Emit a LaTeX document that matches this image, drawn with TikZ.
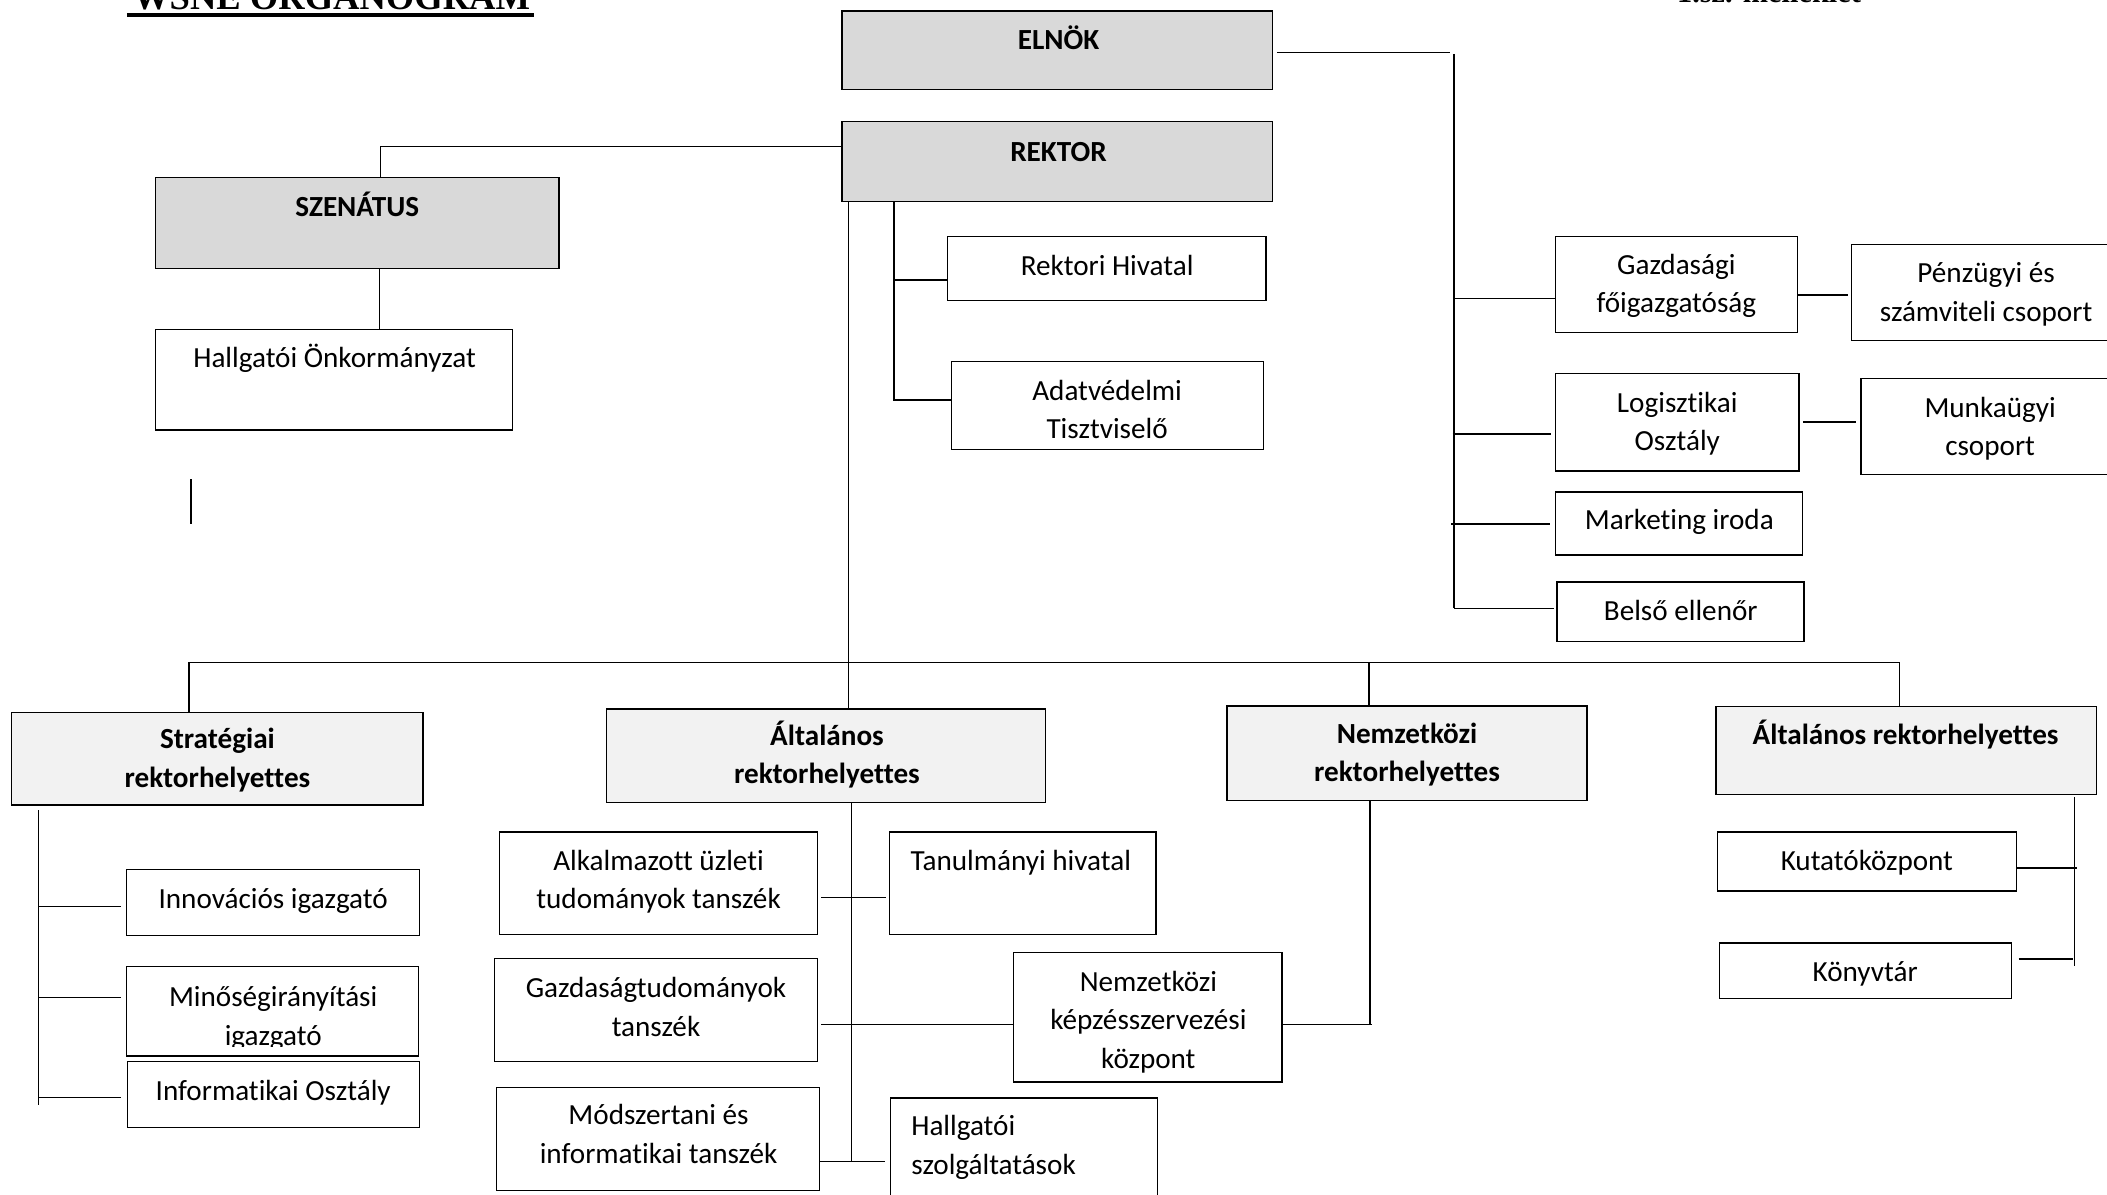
\documentclass[tikz,border=0pt]{standalone}
\usepackage{fontspec}
\setmainfont[Ligatures=NoCommon]{Carlito}
\newfontfamily\titlefont{Liberation Serif}
\usetikzlibrary{fit}
\definecolor{topgray}{HTML}{D9D9D9}
\definecolor{midgray}{HTML}{F2F2F2}
\newcommand\orgbox[6]{\node[#6, fit={(#2,#3) (#4,#5)}] (#1) {};}
\begin{document}
\begin{tikzpicture}[x=1pt,y=-1pt,
  box/.style={draw=black, line width=1pt, inner sep=0pt, fill=white},
  topbox/.style={box, fill=topgray},
  midbox/.style={box, fill=midgray},
  txt/.style={font=\fontsize{21.7}{28.5}\selectfont, align=center, inner sep=0pt, anchor=base},
  btxt/.style={txt, font=\fontsize{21.7}{28.5}\selectfont\bfseries},
  conn/.style={line width=1pt, black}]
\useasboundingbox (0,0) rectangle (1568,889);

% title texts (cut at top, as in the reference)
\node[font=\fontsize{27.2}{30}\selectfont\titlefont\bfseries, inner sep=0pt, anchor=base] (title) at (246.8,6.9) {WSNE ORGANOGRAM};
\draw[line width=2.5pt] (94.5,11.2) -- (397.4,11.2);
\node[font=\fontsize{22.6}{26}\selectfont\titlefont\bfseries, inner sep=0pt, anchor=base] (mell) at (1316.5,2) {1.sz. melléklet};

% boxes
\orgbox{elnok}{626.6}{8.2}{947}{66.5}{topbox}
\orgbox{rektor}{626.6}{90.5}{947}{149.8}{topbox}
\orgbox{szen}{115.6}{131.9}{415.9}{199.9}{topbox}
\orgbox{hok}{115.6}{245}{381.4}{320}{box}
\orgbox{rhiv}{705.3}{176.1}{942.1}{223.7}{box}
\orgbox{adat}{707.9}{269.1}{940.2}{334.3}{box}
\orgbox{gazd}{1157.6}{175.8}{1337.8}{247.4}{box}
\orgbox{penz}{1378}{182}{1575}{253.3}{box}
\orgbox{logi}{1157.6}{277.9}{1338.8}{350.4}{box}
\orgbox{munka}{1385}{281.6}{1575}{352.9}{box}
\orgbox{mark}{1157.6}{366.2}{1341.4}{413}{box}
\orgbox{belso}{1158.8}{433.2}{1342.6}{477.5}{box}
\orgbox{strat}{8.6}{530}{314.9}{599.1}{midbox}
\orgbox{altm}{451.3}{527.5}{777.9}{597.2}{midbox}
\orgbox{nemz}{913.2}{525.4}{1181}{595.5}{midbox}
\orgbox{altr}{1276.9}{525.6}{1560.2}{591.1}{midbox}
\orgbox{inno}{94.3}{647.3}{312.3}{696.4}{box}
\orgbox{mino}{94.3}{719.2}{311.3}{785.8}{box}
\orgbox{info}{95}{789.7}{312.3}{839.1}{box}
\orgbox{alk}{371.6}{619.1}{608.6}{695.3}{box}
\orgbox{tan}{661.7}{619.1}{860.2}{695.3}{box}
\orgbox{gtud}{367.8}{713.2}{608.6}{789.7}{box}
\orgbox{nkk}{754}{709}{954}{805.1}{box}
\orgbox{modsz}{369.3}{809.2}{609.7}{885.7}{box}
\orgbox{hszolg}{662.8}{817.2}{861.4}{895}{box}
\orgbox{kut}{1278.2}{619.1}{1500.7}{663}{box}
\orgbox{konyv}{1279.5}{701.7}{1496.9}{743.1}{box}

% texts (anchor=base is the baseline of the last line)
\node[btxt] (elnokT) at (787.7,36.8) {ELNÖK};
\node[btxt] (rektorT) at (787.7,119.9) {REKTOR};
\node[btxt] (szenT) at (265.8,160.8) {SZENÁTUS};
\node[txt] (hokT) at (249,273.8) {Hallgatói Önkormányzat};
\node[txt] (rhivT) at (823.9,204.9) {Rektori Hivatal};
\node[txt] (adatT) at (823.9,326.5) {Adatvédelmi\\Tisztviselő};
\node[txt] (gazdT) at (1247.5,232.8) {Gazdasági\\főigazgatóság};
\node[txt] (penzT) at (1478,239.1) {Pénzügyi és\\számviteli csoport};
\node[txt] (logiT) at (1248.2,335.2) {Logisztikai\\Osztály};
\node[txt] (munkaT) at (1481,338.9) {Munkaügyi\\csoport};
\node[txt] (markT) at (1249.7,394.1) {Marketing iroda};
\node[txt] (belsoT) at (1250.8,461.7) {Belső ellenőr};
\node[btxt] (stratT) at (161.8,585.8) {Stratégiai\\rektorhelyettes};
\node[btxt] (altmT) at (615.4,583.1) {Általános\\rektorhelyettes};
\node[btxt] (nemzT) at (1047.1,581.7) {Nemzetközi\\rektorhelyettes};
\node[btxt] (altrT) at (1418.1,554.3) {Általános rektorhelyettes};
\node[txt] (innoT) at (203.3,676.3) {Innovációs igazgató};
\begin{scope}
\clip (94.3,719.2) rectangle (311.3,779);
\node[txt] (minoT) at (203.3,777.8) {Minőségirányítási\\igazgató};
\end{scope}
\node[txt] (infoT) at (203.3,819) {Informatikai Osztály};
\node[txt] (alkT) at (490.1,676.3) {Alkalmazott üzleti\\tudományok tanszék};
\node[txt] (tanT) at (759.7,647.6) {Tanulmányi hivatal};
\node[txt] (gtudT) at (488.2,771) {Gazdaságtudományok\\tanszék};
\node[txt] (nkkT) at (854.6,794.9) {Nemzetközi\\képzésszervezési\\központ};
\node[txt] (modszT) at (490.1,865.6) {Módszertani és\\informatikai tanszék};
\node[txt, anchor=base west, align=left] (hszolgT) at (678,873.8) {Hallgatói\\szolgáltatások};
\node[txt] (kutT) at (1389.3,647.6) {Kutatóközpont};
\node[txt] (konyvT) at (1388,730.4) {Könyvtár};

% connectors: ELNÖK side
\coordinate (eR) at (1079,38.9);
\coordinate (busR) at (1082,40);
\coordinate (bG) at (1082,222.3);
\coordinate (bL) at (1081,323);
\coordinate (bM) at (1080,390);
\coordinate (bB) at (1082,452.7);
\draw[conn] (elnok.east |- eR) ++(2.8,0) -- (eR);
\draw[conn] (busR) -- (bB);
\draw[conn] (bG) -- (bG -| gazd.west);
\draw[conn, shorten >=2.6pt] (bL) -- (bL -| logi.west);
\draw[conn, shorten >=3.6pt] (bM) -- (bM -| mark.west);
\draw[conn, shorten >=1.8pt] (bB) -- (bB -| belso.west);
\coordinate (gP) at (0,219.5);
\draw[conn, shorten >=2.3pt] (gP -| gazd.east) -- (gP -| penz.west);
\coordinate (lM) at (0,314);
\draw[conn, shorten <=2.6pt, shorten >=3.2pt] (lM -| logi.east) -- (lM -| munka.west);

% REKTOR side
\coordinate (sJ) at (283.4,109.1);
\draw[conn] (sJ -| rektor.west) -- (sJ) -- (sJ |- szen.north);
\coordinate (sH) at (282.4,0);
\draw[conn] (sH |- szen.south) -- (sH |- hok.north);
\coordinate (rV) at (631.2,0);
\draw[conn] (rV |- rektor.south) -- (rV |- altm.north);
\coordinate (rV2) at (665.4,208.3);
\coordinate (rV3) at (665.4,297.6);
\draw[conn] (rV2 |- rektor.south) -- (rV3) -- (rV3 -| adat.west);
\draw[conn] (rV2) -- (rV2 -| rhiv.west);
\coordinate (st1) at (142.2,356.6);
\coordinate (st2) at (142.2,390);
\draw[conn] (st1) -- (st2);

% horizontal bus
\coordinate (busL) at (140.6,493.2);
\coordinate (busRt) at (1413.8,493.2);
\coordinate (nV) at (1018.7,493.2);
\draw[conn] (busL |- strat.north) -- (busL) -- (busRt) -- (busRt |- altr.north);
\draw[conn] (nV) -- (nV |- nemz.north);

% Strategiai children
\coordinate (sV2) at (28.6,822);
\coordinate (sB1) at (28.6,674.8);
\coordinate (sB2) at (28.6,742.5);
\coordinate (sB3) at (28.6,816.6);
\draw[conn, shorten <=3.5pt] (strat.south -| sV2) -- (sV2);
\draw[conn, shorten >=3.9pt] (sB1) -- (sB1 -| inno.west);
\draw[conn, shorten >=3.9pt] (sB2) -- (sB2 -| mino.west);
\draw[conn, shorten >=4.6pt] (sB3) -- (sB3 -| info.west);

% Altalanos (middle) children
\coordinate (aV) at (633.6,864.6);
\draw[conn] (aV |- altm.south) -- (aV);
\coordinate (aB1) at (0,667.7);
\draw[conn, shorten <=2.2pt, shorten >=1.5pt] (aB1 -| alk.east) -- (aB1 -| tan.west);
\coordinate (aB2) at (0,762.3);
\draw[conn, shorten <=2.2pt] (aB2 -| gtud.east) -- (aB2 -| nkk.west);
\coordinate (aB3) at (0,864.6);
\draw[conn, shorten >=3.8pt] (aB3 -| modsz.east) -- (aB3 -| hszolg.west);

% Nemzetkozi
\coordinate (nV2) at (1019.5,763.1);
\draw[conn] (nV2 |- nemz.south) -- (nV2);
\coordinate (nB) at (1020.8,762.6);
\draw[conn] (nB -| nkk.east) -- (nB);

% Altalanos (right) children
\coordinate (arV) at (1543.8,719.2);
\draw[conn, shorten <=1.4pt] (arV |- altr.south) -- (arV);
\coordinate (arB1) at (1545.9,646);
\draw[conn] (arB1 -| kut.east) -- (arB1);
\coordinate (arB2) at (1543,713.7);
\draw[conn, shorten <=4.8pt] (arB2 -| konyv.east) -- (arB2);
\end{tikzpicture}
\end{document}
